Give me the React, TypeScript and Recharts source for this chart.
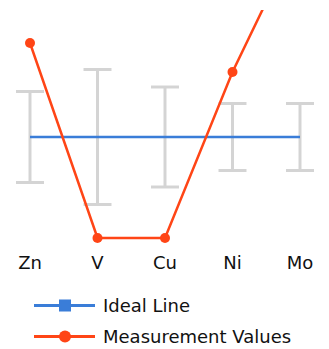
import { LineChart, Line, XAxis, YAxis, ErrorBar } from 'recharts'

const elements = ['Zn', 'V', 'Cu', 'Ni', 'Mo']
const idealValues = [0, 0, 0, 0, 0]
const tolerances = [4.55, 6.75, 5, 3.35, 3.35]
const measuredValues = [9.4, -10.1, -10.1, 6.5, 20.5]

const BLUE = '#3a7dd8'
const RED = '#ff4516'
const FONT = '"DejaVu Sans", "Noto Sans", sans-serif'

const data = elements.map((name, i) => ({
  name,
  ideal: idealValues[i],
  tol: tolerances[i],
  measured: measuredValues[i],
}))

function LegendRow({ color, shape, label }: { color: string, shape: 'square' | 'circle', label: string }) {
  return (
    <div style={{ display: 'flex', alignItems: 'center', height: 31 }}>
      <svg width={95} height={31}>
        <line x1={26} y1={15.5} x2={87} y2={15.5} stroke={color} strokeWidth={3} />
        {shape === 'square'
          ? <rect x={51} y={9.5} width={12} height={12} fill={color} />
          : <circle cx={57} cy={15.5} r={6} fill={color} />}
      </svg>
      <span style={{ fontSize: 18, color: '#111' }}>{label}</span>
    </div>
  )
}

export default function App() {
  return (
    <div style={{ fontFamily: FONT, width: 321 }}>
      <LineChart width={321} height={270} data={data} margin={{ top: 2, right: 29, left: 22, bottom: 0 }}>
        <XAxis
          dataKey="name"
          axisLine={false}
          tickLine={false}
          height={35}
          tickMargin={7}
          tick={{ fontSize: 18, fill: '#111', fontFamily: FONT }}
          interval={0}
        />
        <YAxis hide domain={[-10.6, 12.7]} allowDataOverflow />
        <Line
          dataKey="ideal"
          stroke={BLUE}
          strokeWidth={2.5}
          dot={false}
          activeDot={false}
          isAnimationActive={false}
        >
          <ErrorBar dataKey="tol" width={14} strokeWidth={3} stroke="#d4d4d4" direction="y" />
        </Line>
        <Line
          dataKey="measured"
          stroke={RED}
          strokeWidth={2.5}
          dot={{ r: 5, fill: RED, stroke: RED, strokeWidth: 0 }}
          activeDot={false}
          isAnimationActive={false}
        />
      </LineChart>
      <div style={{ marginTop: 12 }}>
        <LegendRow color={BLUE} shape="square" label="Ideal Line" />
        <LegendRow color={RED} shape="circle" label="Measurement Values" />
      </div>
    </div>
  )
}
